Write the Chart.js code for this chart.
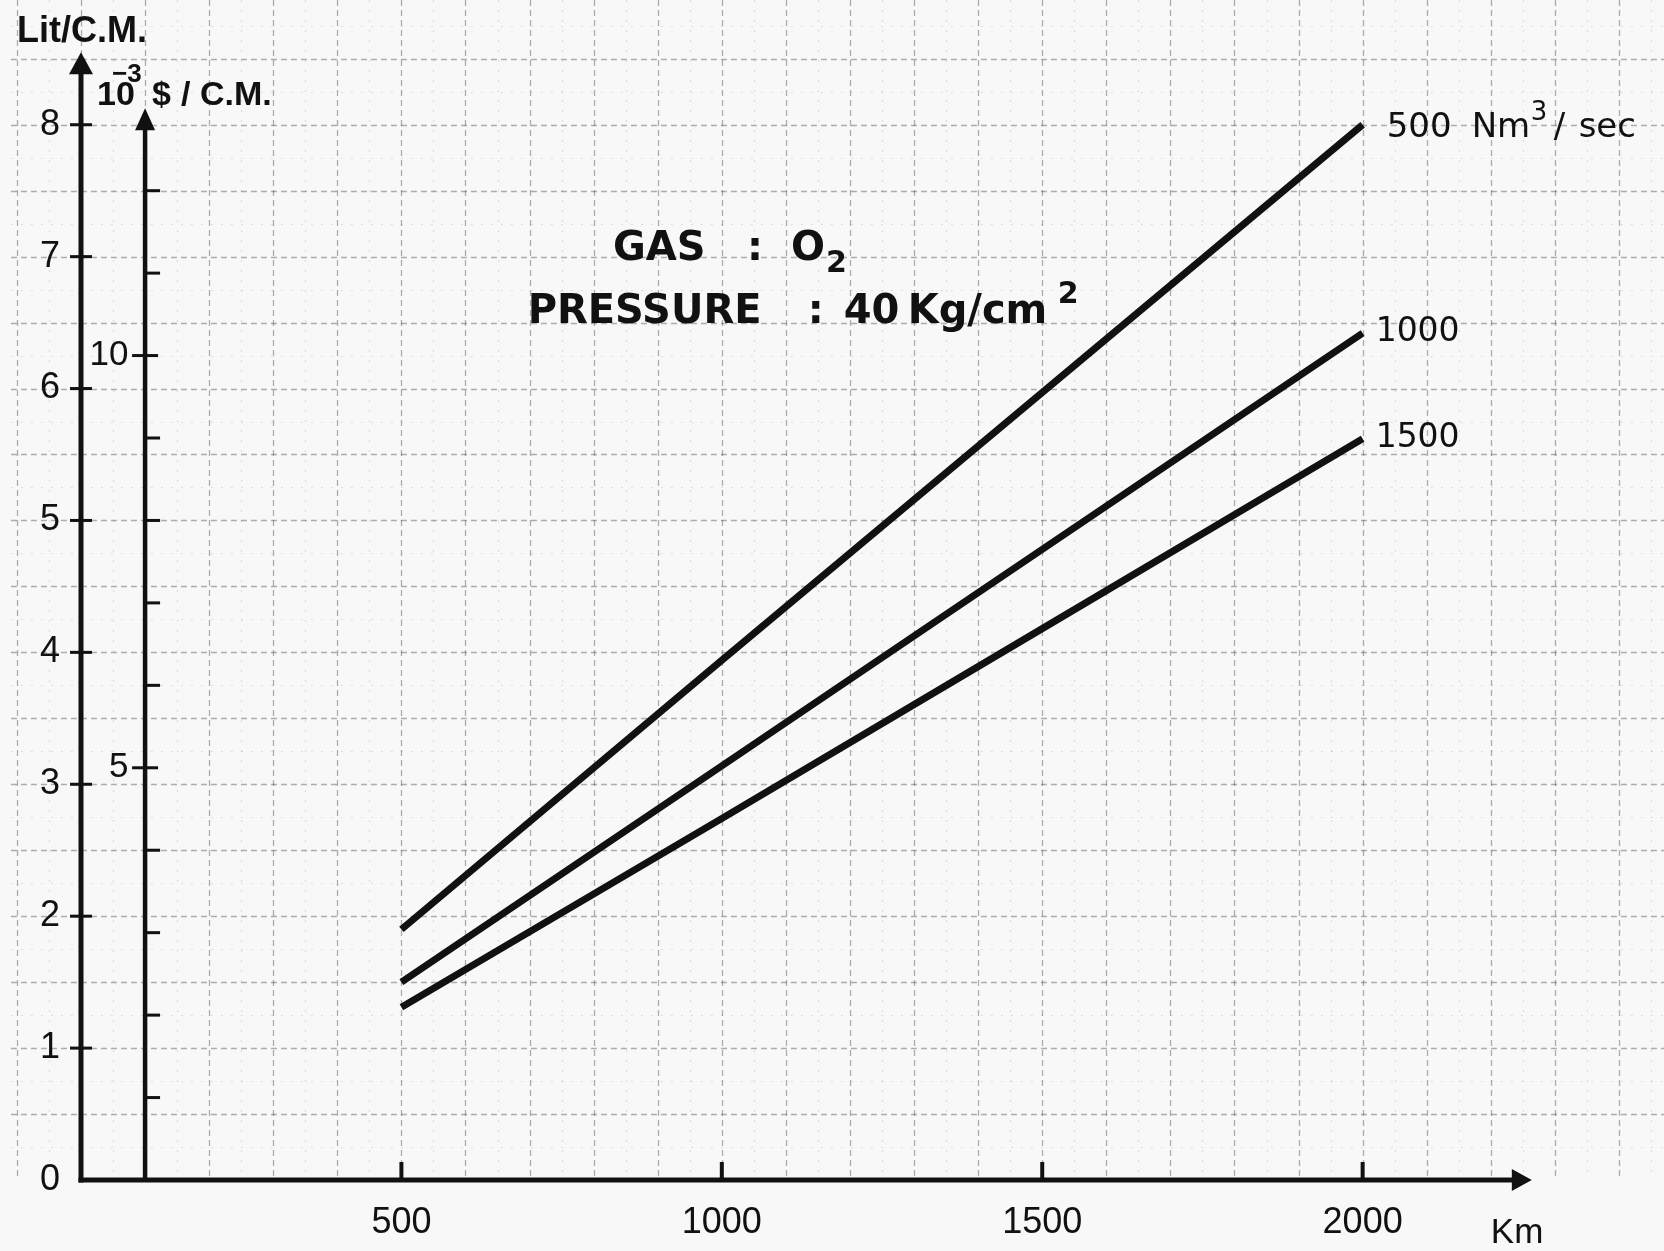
<!DOCTYPE html>
<html>
<head>
<meta charset="utf-8">
<title>GAS O2 - Lit/C.M. vs Km</title>
<script src="https://cdn.jsdelivr.net/npm/chart.js@4.4.1/dist/chart.umd.min.js"></script>
<style>
  html, body { margin: 0; padding: 0; background: #f8f8f8; }
  #wrap { width: 1664px; height: 1251px; position: relative; }
</style>
</head>
<body>
<div id="wrap"><canvas id="chart"></canvas></div>
<script>
// Pipeline length (km)
const distances = [500, 1000, 1500, 2000];

// Lit/C.M. for each flow rate (Nm3/sec)
const flow500 = [1.9, 3.94, 5.97, 8.0];
const flow1000 = [1.5, 3.14, 4.78, 6.42];
const flow1500 = [1.31, 2.74, 4.18, 5.62];
const flowLabels = ['500', '1000', '1500'];

// Tick labels
const kmTicks = [500, 1000, 1500, 2000];
const litTicks = [0, 1, 2, 3, 4, 5, 6, 7, 8];
const costTicks = [5, 10];
const costMinorTicks = [1, 2, 3, 4, 6, 7, 8, 9, 11, 12];

// 1 Lit/C.M. on the outer axis = 1.6 x 10^-3 $/C.M. on the inner axis
const LIT_TO_COST = 1.6;
const Y_MAX = 8.9;
const X_MAX = 2450;

const INK = '#111';

function toPoints(values) {
    return distances.map((d, i) => ({ x: d, y: values[i] }));
}

function line(ctx, x1, y1, x2, y2) {
    ctx.beginPath();
    ctx.moveTo(x1, y1);
    ctx.lineTo(x2, y2);
    ctx.stroke();
}

function triangle(ctx, pts) {
    ctx.beginPath();
    ctx.moveTo(pts[0], pts[1]);
    ctx.lineTo(pts[2], pts[3]);
    ctx.lineTo(pts[4], pts[5]);
    ctx.closePath();
    ctx.fill();
}

// Graph paper background
const paperPlugin = {
    id: 'paper',
    beforeDraw(chart) {
        const { ctx, width, scales: { x, y } } = chart;
        const bottom = y.getPixelForValue(0);
        const left = x.getPixelForValue(-100);
        ctx.save();
        ctx.fillStyle = '#f8f8f8';
        ctx.fillRect(0, 0, width, chart.height);

        const major = 'rgba(70,70,70,0.42)';
        const minor = 'rgba(100,100,100,0.18)';
        for (let km = -100; km <= X_MAX; km += 50) {
            const px = Math.round(x.getPixelForValue(km)) + 0.5;
            const isMajor = km % 100 === 0;
            ctx.lineWidth = isMajor ? 1.3 : 1.2;
            ctx.strokeStyle = isMajor ? major : minor;
            ctx.setLineDash(isMajor ? [6, 4] : [2, 8]);
            line(ctx, px, 0, px, bottom);
        }
        for (let i = 1; i <= 36; i++) {
            const py = Math.round(y.getPixelForValue(i * 0.25)) + 0.5;
            const isMajor = i % 2 === 0;
            ctx.lineWidth = isMajor ? 1.3 : 1.2;
            ctx.strokeStyle = isMajor ? major : minor;
            ctx.setLineDash(isMajor ? [6, 4] : [2, 8]);
            line(ctx, left - 6, py, width, py);
        }
        ctx.restore();
    }
};

// Axis lines, arrows and tick marks
const axesPlugin = {
    id: 'axes',
    afterDatasetsDraw(chart) {
        const { ctx, scales: { x, y, y2 } } = chart;
        const x0 = x.getPixelForValue(0);
        const xc = x.getPixelForValue(100);
        const y0 = y.getPixelForValue(0);
        ctx.save();
        ctx.setLineDash([]);
        ctx.strokeStyle = INK;
        ctx.fillStyle = INK;

        // Lit/C.M.
        ctx.lineWidth = 5;
        line(ctx, x0, y0 + 2.5, x0, y.getPixelForValue(8.4));
        const litTip = y.getPixelForValue(8.55);
        triangle(ctx, [x0, litTip, x0 - 12, litTip + 22, x0 + 12, litTip + 22]);

        // 10^-3 $/C.M.
        ctx.lineWidth = 4.5;
        line(ctx, xc, y0, xc, y2.getPixelForValue(12.75));
        const costTip = y2.getPixelForValue(13.0);
        triangle(ctx, [xc, costTip, xc - 10, costTip + 22, xc + 10, costTip + 22]);

        // Km
        ctx.lineWidth = 5;
        line(ctx, x0 - 2.5, y0, x.getPixelForValue(2240), y0);
        const kmTip = x.getPixelForValue(2264);
        triangle(ctx, [kmTip, y0, kmTip - 20, y0 - 11, kmTip - 20, y0 + 11]);

        ctx.lineWidth = 3;
        litTicks.forEach(v => {
            if (v === 0) return;
            const py = y.getPixelForValue(v);
            line(ctx, x0 - 11, py, x0 + 11, py);
        });
        costTicks.forEach(v => {
            const py = y2.getPixelForValue(v);
            line(ctx, xc - 13, py, xc + 13, py);
        });
        costMinorTicks.forEach(v => {
            const py = y2.getPixelForValue(v);
            line(ctx, xc, py, xc + 15, py);
        });
        ctx.lineWidth = 4;
        kmTicks.forEach(v => {
            const px = x.getPixelForValue(v);
            line(ctx, px, y0, px, y0 - 18);
        });
        ctx.restore();
    }
};

// Titles, annotation and curve labels
const textPlugin = {
    id: 'texts',
    afterDraw(chart) {
        const { ctx, scales: { x, y } } = chart;
        const x0 = x.getPixelForValue(0);
        const y0 = y.getPixelForValue(0);
        ctx.save();
        ctx.fillStyle = INK;
        ctx.textAlign = 'left';
        ctx.textBaseline = 'alphabetic';

        // axis titles
        ctx.font = 'bold 36px "Liberation Sans"';
        ctx.fillText('Lit/C.M.', x0 - 64, 42);
        ctx.font = 'bold 34px "Liberation Sans"';
        ctx.fillText('10', x0 + 16, 105);
        ctx.fillText('$', x0 + 71, 105);
        ctx.fillText('/ C.M.', x0 + 100, 105);
        ctx.font = 'bold 26px "Liberation Sans"';
        ctx.fillText('\u22123', x0 + 31, 82);
        ctx.font = '35px "Liberation Sans"';
        ctx.fillText('Km', x.getPixelForValue(2200), y0 + 63);

        // GAS : O2 / PRESSURE : 40 Kg/cm2
        const gx = x.getPixelForValue(830), gy = y.getPixelForValue(6.975);
        ctx.font = 'bold 40px "DejaVu Sans"';
        ctx.fillText('GAS', gx, gy);
        ctx.fillText(':', gx + 134, gy);
        ctx.fillText('O', gx + 178, gy);
        ctx.font = 'bold 30px "DejaVu Sans"';
        ctx.fillText('2', gx + 213, gy + 12);

        const px = x.getPixelForValue(697), py = y.getPixelForValue(6.5);
        ctx.font = 'bold 40px "DejaVu Sans"';
        ctx.fillText('PRESSURE', px, py);
        ctx.fillText(':', px + 280, py);
        ctx.fillText('40', px + 316, py);
        ctx.fillText('Kg/cm', px + 380, py);
        ctx.font = 'bold 30px "DejaVu Sans"';
        ctx.fillText('2', px + 530, py - 20);

        // curve labels at the 2000 km end
        chart.data.datasets.forEach((ds, i) => {
            const meta = chart.getDatasetMeta(i);
            const end = meta.data[meta.data.length - 1];
            if (i === 0) {
                const lx = end.x + 24, ly = end.y + 12;
                ctx.font = '34px "DejaVu Sans"';
                ctx.fillText(flowLabels[i], lx, ly);
                ctx.fillText('Nm', lx + 85, ly);
                ctx.fillText('/', lx + 167, ly);
                ctx.fillText('sec', lx + 192, ly);
                ctx.font = '26px "DejaVu Sans"';
                ctx.fillText('3', lx + 144, ly - 17);
            } else {
                ctx.font = '33px "DejaVu Sans"';
                ctx.fillText(flowLabels[i], end.x + 13, end.y + 8);
            }
        });
        ctx.restore();
    }
};

const lineStyle = {
    borderColor: INK,
    borderWidth: 7,
    pointRadius: 0,
    tension: 0,
    fill: false
};

new Chart(document.getElementById('chart'), {
    type: 'line',
    data: {
        datasets: [
            Object.assign({ label: flowLabels[0], data: toPoints(flow500) }, lineStyle),
            Object.assign({ label: flowLabels[1], data: toPoints(flow1000) }, lineStyle),
            Object.assign({ label: flowLabels[2], data: toPoints(flow1500) }, lineStyle)
        ]
    },
    options: {
        responsive: true,
        maintainAspectRatio: false,
        animation: false,
        devicePixelRatio: 1,
        layout: { padding: { top: 6, right: 13, bottom: 0, left: 0 } },
        plugins: {
            legend: { display: false },
            tooltip: { enabled: false }
        },
        scales: {
            x: {
                type: 'linear',
                min: 0,
                max: X_MAX,
                afterBuildTicks: s => { s.ticks = kmTicks.map(v => ({ value: v })); },
                afterFit: s => { s.height = 71; s.paddingLeft = 0; s.paddingRight = 0; },
                grid: { display: false, drawTicks: false },
                border: { display: false },
                ticks: {
                    color: INK,
                    padding: 21,
                    maxRotation: 0,
                    autoSkip: false,
                    font: { family: 'Liberation Sans', size: 36 },
                    callback: v => String(v)
                }
            },
            y: {
                type: 'linear',
                position: 'left',
                min: 0,
                max: Y_MAX,
                afterBuildTicks: s => { s.ticks = litTicks.map(v => ({ value: v })); },
                afterFit: s => { s.width = 81; s.paddingTop = 0; s.paddingBottom = 0; },
                grid: { display: false, drawTicks: false },
                border: { display: false },
                ticks: {
                    color: INK,
                    padding: 21,
                    autoSkip: false,
                    font: { family: 'Liberation Sans', size: 36 },
                    callback: v => String(v)
                }
            },
            y2: {
                type: 'linear',
                axis: 'y',
                position: { x: 100 },
                min: 0,
                max: Y_MAX * LIT_TO_COST,
                afterBuildTicks: s => { s.ticks = costTicks.map(v => ({ value: v })); },
                afterFit: s => { s.paddingTop = 0; s.paddingBottom = 0; },
                grid: { display: false, drawTicks: false },
                border: { display: false },
                ticks: {
                    color: INK,
                    autoSkip: false,
                    font: { family: 'Liberation Sans', size: 35 },
                    callback: v => v + ' \u2009'
                }
            }
        }
    },
    plugins: [paperPlugin, axesPlugin, textPlugin]
});
</script>
</body>
</html>
